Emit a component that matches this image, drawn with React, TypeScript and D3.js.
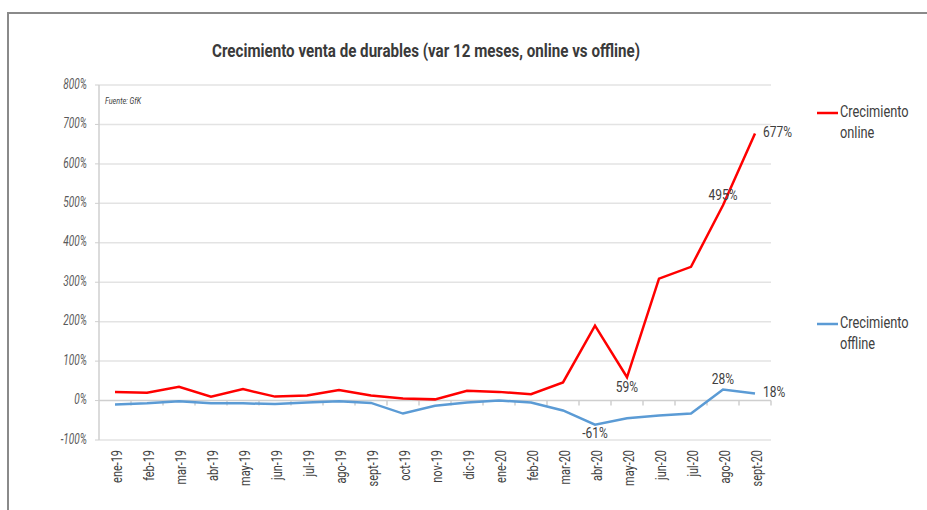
import React from 'react';
import * as d3 from 'd3';

const months = ['ene-19', 'feb-19', 'mar-19', 'abr-19', 'may-19', 'jun-19', 'jul-19', 'ago-19', 'sept-19', 'oct-19', 'nov-19', 'dic-19',
  'ene-20', 'feb-20', 'mar-20', 'abr-20', 'may-20', 'jun-20', 'jul-20', 'ago-20', 'sept-20'];
const online = [22, 20, 35, 10, 29, 10, 13, 27, 13, 5, 3, 25, 22, 16, 46, 190, 59, 309, 339, 495, 677];
const offline = [-10, -7, -2, -7, -7, -9, -5, -2, -6, -33, -13, -5, 0, -5, -25, -61, -45, -38, -33, 28, 18];
const yTicks = [-100, 0, 100, 200, 300, 400, 500, 600, 700, 800];

const font = 'Roboto, "Liberation Sans", sans-serif';

const W = 927;
const H = 510;
const left = 99;
const right = 771;
const top = 85;
const bottom = 440;

// condensed text: squeeze horizontally since no narrow font is installed
const T = ({ x, y, sx = 0.8, rot = 0, children, ...rest }: any) => (
  <text transform={`translate(${x},${y}) rotate(${rot}) scale(${sx},1)`} dominantBaseline="middle" {...rest}>{children}</text>
);

export default function App() {
  const x = d3.scaleBand<string>().domain(months).range([left, right]);
  const y = d3.scaleLinear().domain([-100, 800]).range([bottom, top]);
  const cx = (m: string) => (x(m) as number) + x.bandwidth() / 2;
  const line = d3.line<number>().x((_, i) => cx(months[i])).y(d => y(d));

  const lbl = (series: number[], i: number, dx: number, dy: number, anchor = 'middle') => (
    <T x={cx(months[i]) + dx} y={y(series[i]) + dy} textAnchor={anchor} fontSize={15} fill="#404040">{series[i]}%</T>
  );

  return (
    <svg width={W} height={H} style={{ position: 'absolute', left: 0, top: 0, fontFamily: font }}>
      <rect x={0} y={0} width={W} height={H} fill="#fff" />
      <path d={`M8,${H}V13H${W}`} fill="none" stroke="#8a8a8a" strokeWidth={2} />

      <text x={212} y={52} dominantBaseline="middle" fontSize={19} fontWeight="bold" fill="#3a3a3a"
        textLength={428} lengthAdjust="spacingAndGlyphs">
        Crecimiento venta de durables (var 12 meses, online vs offline)
      </text>

      {yTicks.map(t => (
        <g key={t}>
          <line x1={left} x2={right} y1={y(t)} y2={y(t)} stroke={t === 0 ? '#cfcfcf' : '#e3e3e3'} strokeWidth={1.5} />
          <line x1={left - 4} x2={left} y1={y(t)} y2={y(t)} stroke="#cfcfcf" />
          <T x={left - 12} y={y(t)} textAnchor="end" fontSize={14} fontStyle="italic" fill="#595959" sx={0.72}>{t}%</T>
        </g>
      ))}
      <line x1={left} x2={left} y1={top} y2={bottom} stroke="#cfcfcf" strokeWidth={1.5} />
      {months.map(m => (
        <line key={m} x1={(x(m) as number) + x.bandwidth()} x2={(x(m) as number) + x.bandwidth()} y1={y(0)} y2={y(0) + 5} stroke="#cfcfcf" strokeWidth={1.5} />
      ))}
      {months.map(m => (
        <T key={m} x={cx(m) + 3} y={450} rot={-90} sx={0.78} textAnchor="end" fontSize={14} fill="#404040">{m}</T>
      ))}

      <T x={105} y={102} fontSize={9} fontStyle="italic" fill="#404040" sx={0.8}>Fuente: GfK</T>

      <path d={line(offline) as string} fill="none" stroke="#5b9bd5" strokeWidth={2.5} />
      <path d={line(online) as string} fill="none" stroke="#ff0000" strokeWidth={2.5} />

      {lbl(online, 20, 8, 0, 'start')}
      {lbl(online, 19, 0, -9)}
      {lbl(online, 16, 0, 11)}
      {lbl(offline, 15, 0, 9)}
      {lbl(offline, 19, 0, -9)}
      {lbl(offline, 20, 8, 0, 'start')}

      <line x1={817} x2={838} y1={113} y2={113} stroke="#ff0000" strokeWidth={2.5} />
      <T x={840} y={113} fontSize={16} fill="#404040">Crecimiento</T>
      <T x={840} y={134} fontSize={16} fill="#404040">online</T>
      <line x1={817} x2={838} y1={324} y2={324} stroke="#5b9bd5" strokeWidth={2.5} />
      <T x={840} y={324} fontSize={16} fill="#404040">Crecimiento</T>
      <T x={840} y={345} fontSize={16} fill="#404040">offline</T>
    </svg>
  );
}
